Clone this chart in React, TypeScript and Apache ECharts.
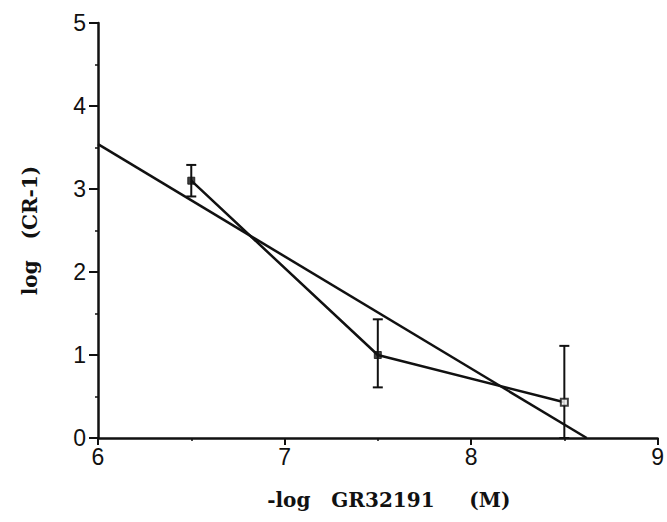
import React, { useEffect, useRef } from "react";
import * as echarts from "echarts";

const xValues = [6.5, 7.5, 8.5];
const yValues = [3.1, 1.0, 0.43];
const errLow = [2.91, 0.61, 0];
const errHigh = [3.29, 1.43, 1.11];
const filled = [true, true, false];
const regressionX = [6, 8.62];
const regressionY = [3.54, 0];
const xTicks = [6, 7, 8, 9];
const yTicks = [0, 1, 2, 3, 4, 5];

export default function App() {
  const ref = useRef<HTMLDivElement>(null);
  useEffect(() => {
    if (!ref.current) return;
    const chart = echarts.init(ref.current, undefined, { renderer: "svg" });
    const tickFont = { fontFamily: "Liberation Sans, Arial, sans-serif", fontSize: 23, color: "#111" };
    const nameFont = { fontFamily: "DejaVu Serif, serif", fontSize: 20, color: "#111", fontWeight: "bold" };
    chart.setOption({
      animation: false,
      backgroundColor: "#fff",
      grid: { left: 98, right: 9, top: 23, bottom: 84, containLabel: false },
      xAxis: {
        type: "value",
        min: xTicks[0],
        max: xTicks[xTicks.length - 1],
        interval: 1,
        name: "-log   GR32191     (M)",
        nameLocation: "middle",
        nameGap: 52,
        nameTextStyle: { ...nameFont, padding: [0, 0, 0, 22] },
        axisLine: { show: true, onZero: false, lineStyle: { color: "#111", width: 2.5 } },
        axisTick: { show: true, length: 7, inside: false, lineStyle: { color: "#111", width: 2 } },
        minorTick: { show: true, splitNumber: 2, length: 3, lineStyle: { color: "#111", width: 1.5 } },
        splitLine: { show: false },
        axisLabel: { ...tickFont, margin: 7 },
      },
      yAxis: {
        type: "value",
        min: yTicks[0],
        max: yTicks[yTicks.length - 1],
        interval: 1,
        name: "log   (CR-1)",
        nameLocation: "middle",
        nameGap: 58,
        nameRotate: 90,
        nameTextStyle: nameFont,
        axisLine: { show: true, onZero: false, lineStyle: { color: "#111", width: 2.5 } },
        axisTick: { show: true, length: 9, inside: false, lineStyle: { color: "#111", width: 2 } },
        minorTick: { show: true, splitNumber: 2, length: 3, lineStyle: { color: "#111", width: 1.5 } },
        splitLine: { show: false },
        axisLabel: { ...tickFont, margin: 12 },
      },
      series: [
        {
          type: "line",
          data: regressionX.map((x, i) => [x, regressionY[i]]),
          symbol: "none",
          lineStyle: { color: "#111", width: 2.5 },
          z: 2,
        },
        {
          type: "line",
          data: xValues.map((x, i) => [x, yValues[i]]),
          symbol: "none",
          lineStyle: { color: "#111", width: 2.5 },
          z: 2,
        },
        {
          type: "custom",
          data: xValues.map((x, i) => [x, errLow[i], errHigh[i]]),
          renderItem: (params: any, api: any) => {
            const x = api.value(0);
            const lo = api.coord([x, api.value(1)]);
            const hi = api.coord([x, api.value(2)]);
            const hw = 5;
            const style = { stroke: "#111", lineWidth: 2 };
            return {
              type: "group",
              children: [
                { type: "line", shape: { x1: lo[0], y1: lo[1], x2: hi[0], y2: hi[1] }, style },
                { type: "line", shape: { x1: hi[0] - hw, y1: hi[1], x2: hi[0] + hw, y2: hi[1] }, style },
                { type: "line", shape: { x1: lo[0] - hw, y1: lo[1], x2: lo[0] + hw, y2: lo[1] }, style },
              ],
            };
          },
          z: 3,
        },
        {
          type: "scatter",
          data: xValues.map((x, i) => ({
            value: [x, yValues[i]],
            itemStyle: filled[i]
              ? { color: "#111", borderColor: "#111", borderWidth: 1 }
              : { color: "#fff", borderColor: "#111", borderWidth: 2 },
          })),
          symbol: "rect",
          symbolSize: 7,
          z: 4,
        },
      ],
    });
    return () => chart.dispose();
  }, []);
  return <div ref={ref} style={{ width: 667, height: 522, position: "absolute", left: 0, top: 0 }} />;
}
